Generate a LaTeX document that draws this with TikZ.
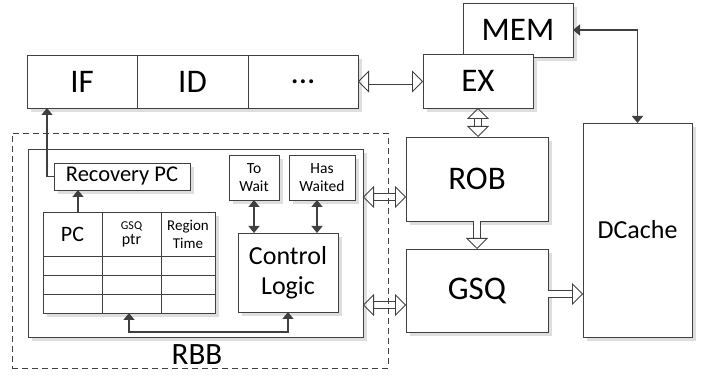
\documentclass[tikz,border=0pt]{standalone}
\usepackage{fontspec}
\setmainfont{Carlito}
\usetikzlibrary{arrows.meta,positioning,calc,shadows}
\definecolor{linegray}{HTML}{404040}

\begin{document}
\begin{tikzpicture}[
  x=1pt, y=1pt,
  box/.style={rectangle, draw=linegray, line width=0.9pt, fill=white, inner sep=0pt, outer sep=0pt, align=center,
    drop shadow={shadow xshift=4pt, shadow yshift=-4pt, fill=black!13, opacity=1}},
  cell/.style={box, minimum width=59pt, minimum height=19pt},
  big/.style={font=\fontsize{33}{38}\selectfont},
  mid/.style={font=\fontsize{26}{30}\selectfont},
  small/.style={font=\fontsize{15.5}{18}\selectfont},
  darr/.style={draw=linegray, line width=1.5pt, -{Triangle[length=7pt,width=11pt]}},
  ddarr/.style={darr, {Triangle[length=7pt,width=11pt]}-{Triangle[length=7pt,width=11pt]}},
  hollow/.style={draw=linegray, line width=0.8pt, double=white, double distance=6pt, -{Triangle[open,length=11pt,width=22pt]}},
  dhollow/.style={hollow, {Triangle[open,length=11pt,width=22pt]}-{Triangle[open,length=11pt,width=22pt]}}
]
\useasboundingbox (0,0) rectangle (712,377);

% pipeline
\node[box, big, minimum width=110pt, minimum height=53pt] (if) at (82,295.5) {IF};
\node[box, big, minimum width=111pt, minimum height=53pt, right=0pt of if] (id) {ID};
\node[box, big, minimum width=110pt, minimum height=53pt, right=0pt of id] (dots) {...};
\node[box, big, minimum width=110pt, minimum height=54pt] (mem) at (518,347) {MEM};
\node[box, big, minimum width=110pt, minimum height=54pt] (ex) at (478,296) {EX};
\node[box, big, minimum width=142pt, minimum height=84pt] (rob) at (477,198) {ROB};
\node[box, big, minimum width=142pt, minimum height=83pt] (gsq) at (477,86.5) {GSQ};
\node[box, mid, minimum width=109pt, minimum height=214pt] (dc) at (637.5,147) {DCache};

% RBB
\node[box, minimum width=335pt, minimum height=188pt] (rbb) at (195.5,134) {};
\node[font=\fontsize{31}{36}\selectfont, inner sep=0pt] (rbbtxt) at (197,22) {RBB};
\node[box, font=\fontsize{22.5}{26}\selectfont, minimum width=136pt, minimum height=27pt] (rpc) at (122,200.5) {Recovery PC};
\node[box, small, minimum width=50pt, minimum height=45pt] (tw) at (254,199.5) {To\\Wait};
\node[box, small, minimum width=66pt, minimum height=45pt] (hw) at (322,199.5) {Has\\Waited};
\node[box, mid, minimum width=100pt, minimum height=79pt] (ctrl) at (288,104.5) {Control\\Logic};

% table
\node[box, font=\fontsize{22}{26}\selectfont, minimum width=59pt, minimum height=44pt] (pc) at (72.5,143) {PC};
\node[box, font=\fontsize{12}{14}\selectfont, minimum width=59pt, minimum height=44pt, right=0pt of pc] (gp) {GSQ\\[1pt]{\fontsize{16}{18}\selectfont ptr}};
\node[box, font=\fontsize{15}{18}\selectfont, minimum width=54pt, minimum height=44pt, right=0pt of gp] (rt) {Region\\Time};
\foreach \r/\above in {1/, 2/1, 3/2} {
  \ifx\above\empty
    \node[cell, below=0pt of pc] (a\r) {};
    \node[cell, below=0pt of gp] (b\r) {};
    \node[cell, minimum width=54pt, below=0pt of rt] (c\r) {};
  \else
    \node[cell, below=0pt of a\above] (a\r) {};
    \node[cell, below=0pt of b\above] (b\r) {};
    \node[cell, minimum width=54pt, below=0pt of c\above] (c\r) {};
  \fi
}

% dark arrows
\draw[darr] (rpc.west) -| ([xshift=-35pt]if.south);
\draw[darr] ([xshift=5.5pt]pc.north) -- ([xshift=5.5pt]pc.north |- rpc.south);
\draw[ddarr] (tw.south) -- (tw.south |- ctrl.north);
\draw[ddarr] ([xshift=-5pt]hw.south) -- ([xshift=-5pt]hw.south |- ctrl.north);
\draw[ddarr] ([xshift=-2.5pt]b3.south) -- ++(0,-19) -| (ctrl.south);
\draw[ddarr] (mem.east) -| (dc.north);

% hollow arrows
\draw[dhollow] (dots.east) -- (dots.east -| ex.west);
\draw[dhollow] (ex.south) -- (ex.south |- rob.north);
\draw[hollow] (rob.south) -- (gsq.north);
\draw[hollow] ([yshift=-3.5pt]gsq.east) -- ([yshift=-3.5pt]gsq.east -| dc.west);
\draw[dhollow] ([yshift=-18pt]rob.west -| rbb.east) -- ([yshift=-18pt]rob.west);
\draw[dhollow] ([yshift=-14.5pt]gsq.west -| rbb.east) -- ([yshift=-14.5pt]gsq.west);

% dashed frame
\node[draw=linegray, line width=0.9pt, dash pattern=on 6pt off 4pt, minimum width=376pt, minimum height=235pt, inner sep=0pt] (rbbout) at (200,126.5) {};
\end{tikzpicture}
\end{document}
